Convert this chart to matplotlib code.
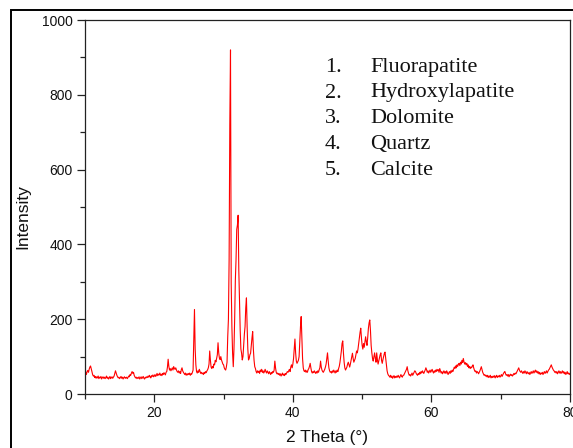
import numpy as np
import matplotlib
matplotlib.use("Agg")
import matplotlib.pyplot as plt
from matplotlib.patches import Rectangle
from matplotlib.ticker import MultipleLocator, FixedLocator

# ---- data: XRD pattern, 0.1 degree sampling, one row per degree ----
theta_start = 10.0
theta_step = 0.1
intensity_rows = [
    [55, 58, 52, 60, 63, 58, 66, 72, 75, 68],        # 10
    [60, 52, 48, 50, 44, 47, 42, 46, 43, 48],        # 11
    [41, 45, 43, 47, 40, 44, 46, 42, 45, 41],        # 12
    [44, 48, 42, 45, 40, 43, 47, 41, 44, 46],        # 13
    [42, 45, 48, 55, 62, 56, 50, 46, 43, 45],        # 14
    [41, 44, 47, 42, 45, 40, 44, 46, 42, 43],        # 15
    [45, 41, 44, 48, 46, 52, 50, 56, 60, 55],        # 16
    [58, 50, 46, 43, 45, 41, 44, 42, 46, 40],        # 17
    [43, 46, 41, 44, 47, 42, 40, 45, 43, 46],        # 18
    [44, 48, 45, 50, 46, 43, 49, 47, 51, 46],        # 19
    [48, 52, 47, 50, 55, 49, 53, 51, 56, 50],        # 20
    [53, 49, 55, 52, 57, 54, 51, 58, 60, 72],        # 21
    [93, 74, 64, 68, 62, 66, 70, 64, 73, 68],        # 22
    [66, 70, 64, 60, 58, 62, 56, 60, 55, 65],        # 23
    [70, 62, 58, 55, 52, 56, 50, 54, 51, 55],        # 24
    [52, 56, 50, 54, 53, 58, 64, 150, 226, 120],     # 25
    [78, 60, 56, 62, 58, 66, 60, 55, 58, 54],        # 26
    [56, 52, 58, 55, 60, 57, 62, 65, 70, 80],        # 27
    [115, 90, 72, 68, 74, 70, 80, 78, 90, 86],       # 28
    [95, 105, 137, 110, 96, 92, 100, 91, 85, 80],    # 29
    [78, 70, 66, 64, 72, 85, 153, 200, 358, 720],    # 30
    [920, 297, 180, 110, 73, 120, 200, 305, 360, 440],  # 31
    [452, 478, 330, 251, 170, 120, 109, 91, 100, 130],  # 32
    [160, 180, 230, 257, 180, 120, 91, 95, 105, 109],   # 33
    [130, 150, 167, 120, 90, 73, 68, 60, 56, 62],    # 34
    [58, 61, 55, 64, 60, 66, 58, 62, 56, 60],        # 35
    [66, 60, 56, 62, 58, 54, 60, 56, 52, 58],        # 36
    [55, 60, 58, 64, 88, 70, 58, 54, 56, 52],        # 37
    [55, 50, 54, 48, 52, 56, 50, 53, 49, 55],        # 38
    [52, 56, 60, 58, 62, 66, 60, 72, 78, 70],        # 39
    [80, 95, 120, 147, 110, 88, 82, 86, 90, 100],    # 40
    [140, 180, 207, 150, 95, 70, 62, 60, 64, 58],    # 41
    [62, 58, 65, 68, 74, 82, 70, 60, 56, 60],        # 42
    [57, 62, 58, 55, 60, 56, 62, 58, 65, 70],        # 43
    [88, 72, 64, 60, 58, 62, 66, 72, 80, 95],        # 44
    [110, 88, 70, 62, 58, 60, 56, 62, 58, 64],       # 45
    [60, 56, 62, 58, 64, 60, 68, 74, 85, 100],       # 46
    [115, 135, 142, 110, 85, 70, 64, 68, 72, 80],    # 47
    [85, 78, 72, 80, 90, 100, 109, 95, 85, 90],      # 48
    [95, 105, 115, 110, 120, 135, 150, 165, 176, 150],  # 49
    [130, 120, 135, 125, 140, 153, 140, 130, 150, 175],  # 50
    [190, 198, 170, 130, 110, 95, 88, 100, 110, 95],  # 51
    [85, 110, 92, 80, 88, 95, 105, 110, 90, 82],     # 52
    [92, 100, 108, 112, 95, 78, 62, 54, 50, 48],     # 53
    [45, 50, 44, 48, 42, 46, 49, 43, 47, 44],        # 54
    [48, 45, 50, 46, 43, 48, 52, 47, 45, 50],        # 55
    [50, 54, 58, 62, 66, 73, 62, 55, 50, 52],        # 56
    [48, 52, 56, 50, 54, 58, 62, 60, 55, 52],        # 57
    [50, 55, 52, 58, 54, 60, 56, 62, 58, 55],        # 58
    [60, 64, 70, 65, 58, 62, 56, 60, 64, 58],        # 59
    [62, 66, 60, 56, 62, 58, 64, 60, 66, 62],        # 60
    [65, 58, 68, 62, 56, 60, 54, 58, 62, 56],        # 61
    [60, 55, 62, 58, 52, 56, 60, 55, 62, 58],        # 62
    [64, 60, 66, 72, 68, 75, 70, 78, 74, 80],        # 63
    [82, 76, 85, 80, 90, 84, 95, 86, 80, 84],        # 64
    [78, 82, 74, 78, 70, 74, 68, 72, 70, 75],        # 65
    [78, 70, 64, 60, 62, 56, 60, 58, 54, 58],        # 66
    [62, 68, 73, 65, 58, 54, 50, 52, 48, 50],        # 67
    [46, 50, 44, 48, 45, 50, 43, 47, 44, 48],        # 68
    [45, 49, 43, 47, 50, 44, 48, 46, 50, 45],        # 69
    [48, 52, 47, 51, 55, 58, 60, 54, 50, 52],        # 70
    [48, 52, 46, 50, 53, 49, 52, 48, 51, 55],        # 71
    [52, 56, 54, 58, 62, 66, 70, 64, 60, 58],        # 72
    [62, 58, 55, 60, 56, 62, 58, 54, 60, 56],        # 73
    [54, 58, 52, 56, 60, 55, 58, 62, 56, 60],        # 74
    [64, 58, 62, 56, 60, 54, 58, 52, 56, 54],        # 75
    [58, 52, 56, 60, 55, 58, 62, 56, 60, 64],        # 76
    [66, 70, 74, 78, 72, 68, 64, 62, 58, 60],        # 77
    [56, 60, 54, 58, 62, 56, 60, 55, 58, 62],        # 78
    [56, 60, 54, 58, 52, 56, 60, 54, 56, 52],        # 79
    [55],                                             # 80
]
x_major_ticks = [20, 40, 60, 80]
y_major_ticks = [0, 200, 400, 600, 800, 1000]
phase_numbers = ["1.", "2.", "3.", "4.", "5."]
phase_names = ["Fluorapatite", "Hydroxylapatite", "Dolomite", "Quartz", "Calcite"]

intensity = np.array([v for row in intensity_rows for v in row], dtype=float)
two_theta = theta_start + theta_step * np.arange(len(intensity))

W, H = 573, 448
fig = plt.figure(figsize=(W / 100, H / 100), dpi=100)
ax = fig.add_axes([85 / W, (H - 394) / H, (570 - 85) / W, (394 - 20) / H])

ax.plot(two_theta, intensity, color="#ff0000", lw=0.8)
ax.set_xlim(10, 80)
ax.set_ylim(0, 1000)

ax.xaxis.set_major_locator(FixedLocator(x_major_ticks))
ax.xaxis.set_minor_locator(MultipleLocator(10))
ax.yaxis.set_major_locator(FixedLocator(y_major_ticks))
ax.yaxis.set_minor_locator(MultipleLocator(100))

ax.tick_params(which="major", direction="out", length=5.5, width=0.9, color="#222222", pad=3)
ax.tick_params(which="minor", direction="out", length=3.6, width=0.9, color="#222222")
for lab in ax.get_xticklabels() + ax.get_yticklabels():
    lab.set_fontfamily("Liberation Sans")
    lab.set_fontsize(10)
    lab.set_color("#111111")
ax.tick_params(axis="y", which="major", length=6, pad=3)

for s in ax.spines.values():
    s.set_color("#222222")
    s.set_linewidth(0.9)

ax.set_xlabel("2 Theta (°)", fontfamily="Liberation Sans", fontsize=12.5, color="#111111")
ax.set_ylabel("Intensity", fontfamily="Liberation Sans", fontsize=12.5, color="#111111")
ax.xaxis.set_label_coords(0.5, -0.096)
ax.yaxis.set_label_coords(-0.113, 0.475)

# annotation list
baselines = [71.7, 97.5, 123.3, 149.1, 174.9]
for num, name, yb in zip(phase_numbers, phase_names, baselines):
    fig.text(325 / W, 1 - yb / H, num, fontfamily="Liberation Serif", fontsize=16,
             va="baseline", ha="left", color="#111111")
    fig.text(370.5 / W, 1 - yb / H, name, fontfamily="Liberation Serif", fontsize=16,
             va="baseline", ha="left", color="#111111")

# outer frame
fig.patches.append(Rectangle((11 / W, -0.1), 1.2, 1 - 10 / H + 0.1, transform=fig.transFigure,
                             fill=False, edgecolor="black", linewidth=1.4))

fig.savefig("out.png", dpi=100)
